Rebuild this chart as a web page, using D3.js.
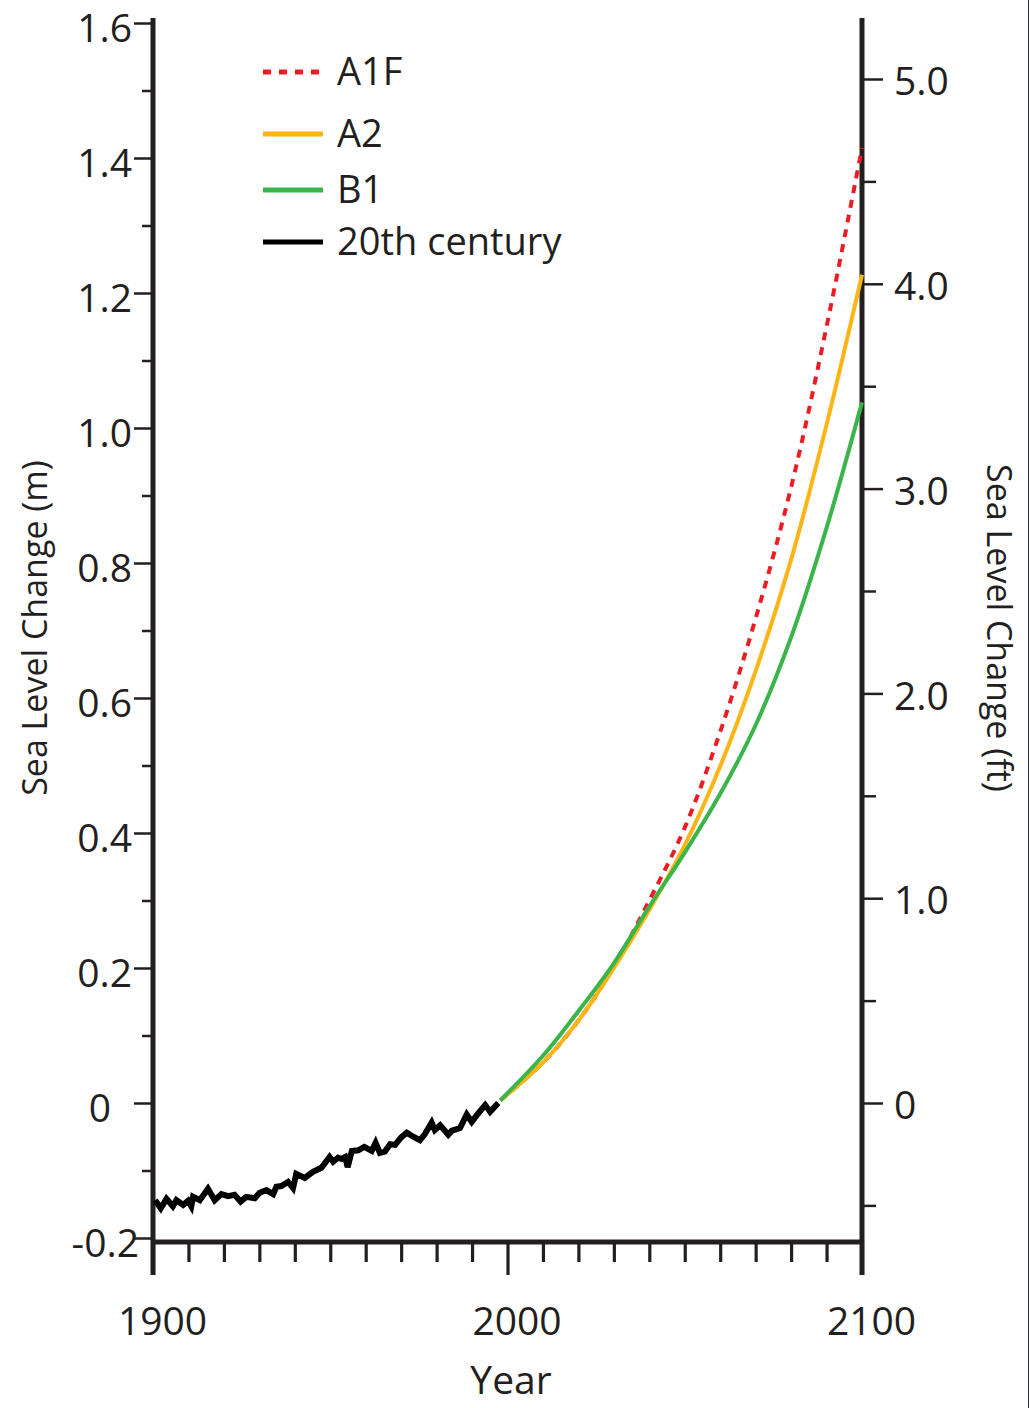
<!DOCTYPE html>
<html>
<head>
<meta charset="utf-8">
<script src="https://cdn.jsdelivr.net/npm/d3@7"></script>
<style>
  body { margin: 0; background: #fff; }
  svg { display: block; font-family: "Open Sans", sans-serif; }
  text { fill: #231f20; }
</style>
</head>
<body>
<svg id="chart" width="1030" height="1408"></svg>
<script>
var obsYears = [1900.6, 1902.2, 1903.8, 1905.6, 1906.6, 1908.5, 1909.9, 1910.8, 1911.3, 1913.2,
  1915.5, 1917.4, 1919.3, 1921.2, 1923.0, 1924.7, 1926.3, 1928.7, 1930.1, 1932.0,
  1933.9, 1934.8, 1936.2, 1938.1, 1939.5, 1940.4, 1942.8, 1945.1, 1947.5, 1949.8,
  1950.8, 1952.2, 1953.2, 1954.2, 1954.9, 1956.1, 1957.9, 1959.6, 1961.7, 1962.8,
  1964.0, 1965.4, 1966.9, 1968.3, 1970.0, 1971.6, 1973.4, 1975.3, 1976.7, 1978.6,
  1979.5, 1981.0, 1983.3, 1984.3, 1986.6, 1988.5, 1989.9, 1991.8, 1993.7, 1995.1, 1997.4];
var obsValues = [-0.144, -0.156, -0.142, -0.153, -0.144, -0.151, -0.145, -0.153, -0.139, -0.144,
  -0.127, -0.144, -0.135, -0.138, -0.136, -0.146, -0.139, -0.141, -0.133, -0.129,
  -0.135, -0.124, -0.123, -0.117, -0.126, -0.105, -0.111, -0.102, -0.096, -0.080,
  -0.087, -0.081, -0.083, -0.080, -0.095, -0.071, -0.070, -0.065, -0.071, -0.059,
  -0.074, -0.072, -0.061, -0.062, -0.051, -0.044, -0.050, -0.055, -0.046, -0.029,
  -0.040, -0.033, -0.047, -0.041, -0.037, -0.017, -0.028, -0.015, -0.003, -0.013, 0.000];

// scenario projections (m)
var projYears = [1998, 2010, 2020, 2030, 2040, 2050, 2060, 2070, 2080, 2090, 2100];
var a1f = [0.004, 0.060, 0.122, 0.202, 0.300, 0.408, 0.550, 0.718, 0.912, 1.150, 1.415];
var a2  = [0.004, 0.060, 0.122, 0.200, 0.286, 0.382, 0.499, 0.640, 0.805, 1.005, 1.227];
var b1  = [0.004, 0.070, 0.136, 0.207, 0.291, 0.371, 0.458, 0.560, 0.690, 0.852, 1.038];

var meterTicks = [-0.2, 0, 0.2, 0.4, 0.6, 0.8, 1.0, 1.2, 1.4, 1.6];
var meterMinor = [-0.1, 0.1, 0.3, 0.5, 0.7, 0.9, 1.1, 1.3, 1.5];
var feetTicks = [0, 1, 2, 3, 4, 5];
var feetMinor = [-0.5, 0.5, 1.5, 2.5, 3.5, 4.5];
var yearTicks = [1900, 2000, 2100];
var yearMinor = [1910, 1920, 1930, 1940, 1950, 1960, 1970, 1980, 1990,
  2010, 2020, 2030, 2040, 2050, 2060, 2070, 2080, 2090];

var legendItems = [
  { name: "A1F", color: "#ed1c24", dash: "8,8" },
  { name: "A2", color: "#fdb515", dash: null },
  { name: "B1", color: "#39b54a", dash: null },
  { name: "20th century", color: "#000", dash: null }
];

var ink = "#231f20";
var svg = d3.select("#chart");
svg.append("rect").attr("width", 1030).attr("height", 1408).attr("fill", "#fff");

var x = d3.scaleLinear().domain([1900, 2100]).range([153, 862]);
var y = d3.scaleLinear().domain([-0.2, 1.6]).range([1238, 23]);
var yFt = d3.scaleLinear().domain([0, 5]).range([y(0), 79]);
var baseY = 1242;

function fmt(d) {
  return d === 0 ? "0" : d3.format(".1f")(d).replace("\u2212", "-");
}

function styleAxis(g, w) {
  g.select(".domain").remove();
  g.selectAll(".tick line").attr("stroke", ink).attr("stroke-width", w);
  g.selectAll(".tick text").attr("fill", ink).style("font-size", "39px")
    .style("font-family", "'Open Sans', sans-serif");
}

// left axis
var gl = svg.append("g").attr("transform", "translate(" + x(1900) + ",0)");
gl.append("g").call(d3.axisLeft(y).tickValues(meterMinor).tickSize(11).tickFormat(""))
  .call(styleAxis, 2.5);
gl.append("g").call(d3.axisLeft(y).tickValues(meterTicks).tickSize(19).tickPadding(2).tickFormat(fmt))
  .call(styleAxis, 2.5)
  .selectAll(".tick text").attr("dy", "0.47em")
  .attr("dx", function (d) { return d === 0 ? -21 : (d < 0 ? 7 : 0); });

// right axis
var gr = svg.append("g").attr("transform", "translate(" + x(2100) + ",0)");
gr.append("g").call(d3.axisRight(yFt).tickValues(feetMinor).tickSize(14).tickFormat(""))
  .call(styleAxis, 2.5);
gr.append("g").call(d3.axisRight(yFt).tickValues(feetTicks).tickSize(21).tickPadding(11).tickFormat(fmt))
  .call(styleAxis, 2.5)
  .selectAll(".tick text").attr("dy", "0.4em");

// bottom axis
var gb = svg.append("g").attr("transform", "translate(0," + baseY + ")");
gb.append("g").call(d3.axisBottom(x).tickValues(yearMinor).tickSize(20).tickFormat(""))
  .call(styleAxis, 3.2);
gb.append("g").call(d3.axisBottom(x).tickValues(yearTicks).tickSize(33).tickPadding(32)
    .tickFormat(d3.format("d")))
  .call(styleAxis, 3.2)
  .selectAll(".tick text").attr("dx", 9);

// axis frame lines
svg.append("path")
  .attr("d", "M" + x(1900) + ",18V1275M" + x(1900) + "," + baseY + "H" + x(2100) + "M" + x(2100) + ",18V1275")
  .attr("fill", "none").attr("stroke", ink).attr("stroke-width", 5);

// lines
var line = d3.line().x(function (d) { return x(d[0]); }).y(function (d) { return y(d[1]); });
var smooth = d3.line().curve(d3.curveCatmullRom.alpha(0.5))
  .x(function (d) { return x(d[0]); }).y(function (d) { return y(d[1]); });

function pairs(xs, ys) { return xs.map(function (v, i) { return [v, ys[i]]; }); }

svg.append("path").attr("d", smooth(pairs(projYears, a1f)))
  .attr("fill", "none").attr("stroke", "#ed1c24").attr("stroke-width", 4).attr("stroke-dasharray", "8,7");
svg.append("path").attr("d", smooth(pairs(projYears, a2)))
  .attr("fill", "none").attr("stroke", "#fdb515").attr("stroke-width", 4);
svg.append("path").attr("d", smooth(pairs(projYears, b1)))
  .attr("fill", "none").attr("stroke", "#39b54a").attr("stroke-width", 4);
svg.append("path").attr("d", line(pairs(obsYears, obsValues)))
  .attr("fill", "none").attr("stroke", "#000").attr("stroke-width", 6)
  .attr("stroke-linejoin", "miter");

// legend
var legendY = [72, 134, 190, 242];
var lg = svg.append("g");
legendItems.forEach(function (d, i) {
  lg.append("line").attr("x1", 263).attr("x2", 323).attr("y1", legendY[i]).attr("y2", legendY[i])
    .attr("stroke", d.color).attr("stroke-width", 5).attr("stroke-dasharray", d.dash);
  lg.append("text").attr("x", 337).attr("y", legendY[i]).attr("dy", "0.35em")
    .style("font-size", "38px").text(d.name);
});

// axis titles
svg.append("text").attr("transform", "translate(47,628) rotate(-90)")
  .attr("text-anchor", "middle").style("font-size", "34px").text("Sea Level Change (m)");
svg.append("text").attr("transform", "translate(987,628) rotate(90)")
  .attr("text-anchor", "middle").style("font-size", "34px").text("Sea Level Change (ft)");
svg.append("text").attr("x", 511).attr("y", 1394).attr("text-anchor", "middle")
  .style("font-size", "39px").text("Year");

// thin frame edge on the right
svg.append("line").attr("x1", 1028.5).attr("x2", 1028.5).attr("y1", 0).attr("y2", 1408)
  .attr("stroke", "#1f3050").attr("stroke-width", 1);
</script>
</body>
</html>
